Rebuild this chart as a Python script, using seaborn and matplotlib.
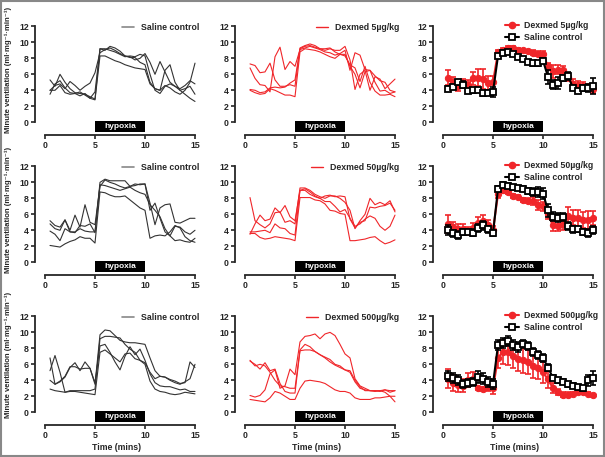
import numpy as np
import pandas as pd
import seaborn as sns
import matplotlib.pyplot as plt
from matplotlib.lines import Line2D
from matplotlib.patches import Rectangle

# time points (min)
time = np.arange(1, 31) * 0.5

# ---- individual traces (4 animals per group) ----
sal_1 = [
    [5.3, 4.5, 6.0, 5.0, 4.2, 3.7, 3.6, 3.5, 3.2, 2.9, 9.2, 9.2, 9.0, 8.8, 8.5, 8.2, 8.3, 8.2, 8.5, 8.3, 6.0, 4.0, 3.6, 4.5, 4.8, 4.5, 4.0, 3.5, 3.0, 2.6],
    [3.5, 4.8, 5.2, 4.3, 3.7, 3.6, 3.8, 3.4, 3.0, 2.8, 8.3, 8.3, 8.0, 7.7, 7.5, 7.2, 7.0, 6.8, 6.7, 6.6, 4.8, 4.2, 4.0, 4.6, 4.3, 3.8, 3.5, 4.0, 5.0, 7.4],
    [4.0, 4.6, 4.8, 4.2, 5.1, 4.6, 4.0, 4.5, 4.9, 6.2, 8.7, 9.1, 9.3, 9.0, 8.6, 8.3, 8.2, 7.8, 8.0, 8.6, 7.5, 6.0, 7.6, 6.3, 5.0, 4.5, 4.2, 4.6, 5.2, 4.8],
    [4.0, 4.0, 4.6, 3.7, 3.5, 3.6, 3.3, 3.6, 3.0, 3.8, 9.2, 9.0, 9.5, 9.3, 8.9, 8.3, 8.1, 8.1, 7.5, 7.2, 5.0, 4.2, 4.0, 6.5, 7.2, 5.0, 4.0, 4.2, 4.5, 3.5],
]
dex_5 = [
    [7.3, 7.1, 6.2, 6.3, 7.4, 5.3, 4.5, 4.5, 4.7, 4.5, 9.3, 9.6, 9.8, 9.6, 9.2, 9.0, 9.2, 9.0, 9.0, 9.5, 7.8, 4.1, 6.0, 6.5, 4.0, 5.7, 5.4, 4.2, 4.8, 5.4],
    [6.8, 5.5, 4.7, 4.6, 3.8, 8.2, 9.4, 6.6, 7.6, 7.0, 9.1, 9.3, 9.5, 9.3, 9.1, 8.8, 8.7, 8.4, 8.6, 9.0, 6.5, 8.7, 8.4, 6.6, 6.5, 5.0, 3.9, 4.0, 3.6, 3.8],
    [4.1, 4.0, 3.7, 3.8, 4.3, 4.4, 4.3, 4.4, 4.9, 5.3, 9.2, 9.5, 9.6, 9.4, 9.2, 9.2, 9.3, 8.8, 8.5, 8.3, 7.2, 6.8, 5.1, 7.0, 5.0, 3.9, 3.4, 3.4, 3.5, 3.2],
    [4.0, 3.7, 3.5, 3.6, 4.2, 4.0, 3.7, 3.4, 3.4, 3.2, 8.8, 9.2, 9.1, 9.0, 8.8, 8.5, 8.2, 8.0, 8.5, 8.5, 7.0, 6.0, 4.3, 6.3, 6.5, 5.8, 5.2, 5.0, 4.0, 3.8],
]
sal_2 = [
    [5.2, 4.6, 4.4, 5.3, 4.0, 5.9, 4.4, 7.2, 5.0, 4.7, 9.5, 10.3, 10.0, 9.8, 9.5, 9.3, 9.5, 9.8, 9.7, 9.8, 6.5, 7.4, 5.5, 3.8, 3.3, 2.7, 2.8, 2.6, 2.5, 3.0],
    [4.8, 4.2, 4.0, 5.3, 3.8, 3.8, 4.2, 3.9, 3.8, 3.8, 10.0, 10.4, 10.2, 10.2, 10.2, 10.2, 9.5, 9.6, 9.8, 9.8, 7.4, 4.7, 6.8, 7.2, 7.3, 5.0, 4.9, 5.2, 5.5, 5.5],
    [3.9, 3.5, 2.7, 4.2, 3.8, 3.7, 4.6, 4.5, 4.8, 3.7, 9.7, 9.6, 9.4, 9.2, 9.0, 9.2, 9.4, 9.0, 8.7, 8.5, 7.2, 6.5, 5.7, 4.2, 3.3, 4.5, 4.4, 3.8, 3.5, 4.0],
    [2.1, 2.0, 1.9, 2.3, 2.6, 2.8, 3.2, 3.0, 3.0, 2.4, 8.8, 8.7, 8.4, 8.2, 8.2, 8.3, 7.8, 7.3, 6.8, 6.5, 3.0, 3.3, 3.4, 3.3, 3.8, 4.6, 4.3, 3.2, 2.7, 2.5],
]
dex_50 = [
    [8.1, 5.2, 4.7, 4.3, 4.8, 6.2, 6.3, 5.0, 5.2, 4.8, 9.3, 9.3, 9.0, 8.5, 8.2, 8.0, 8.3, 8.3, 8.0, 7.5, 6.5, 4.2, 5.2, 6.0, 8.0, 7.2, 7.5, 7.2, 7.7, 6.3],
    [3.5, 4.8, 5.9, 5.2, 5.4, 6.8, 6.2, 7.1, 5.7, 5.2, 9.0, 9.2, 8.8, 8.3, 8.0, 8.3, 8.4, 8.2, 8.3, 8.2, 5.4, 4.3, 5.0, 5.2, 6.9, 6.8, 7.0, 7.1, 7.4, 6.5],
    [3.8, 3.8, 3.9, 4.0, 3.7, 4.8, 4.3, 4.2, 3.6, 3.4, 9.0, 9.0, 8.5, 8.2, 8.0, 7.6, 7.6, 7.0, 6.3, 6.6, 5.5, 4.5, 4.8, 5.4, 5.8, 5.5, 4.5, 4.0, 4.5, 5.9],
    [3.6, 3.6, 3.1, 2.9, 3.0, 3.2, 3.1, 3.0, 2.9, 2.7, 8.1, 8.1, 8.1, 7.8, 7.7, 7.3, 6.5, 6.4, 6.1, 6.0, 2.7, 2.7, 2.8, 2.9, 3.1, 3.2, 2.7, 2.3, 2.5, 2.8],
]
sal_3 = [
    [6.8, 3.5, 3.9, 4.5, 5.7, 5.7, 5.4, 5.5, 5.5, 3.5, 9.7, 10.3, 10.2, 9.6, 9.0, 8.8, 8.7, 8.7, 8.6, 8.5, 6.8, 5.2, 4.5, 4.4, 4.0, 3.7, 3.5, 3.8, 4.2, 6.0],
    [5.2, 7.1, 5.0, 2.5, 2.7, 2.7, 2.7, 2.7, 2.7, 2.9, 9.2, 9.5, 9.5, 9.4, 9.3, 8.5, 7.9, 7.5, 6.5, 6.2, 5.0, 4.2, 4.5, 4.4, 4.1, 3.9, 3.6, 3.7, 6.3, 5.6],
    [4.0, 3.5, 3.8, 4.4, 5.6, 6.2, 5.2, 6.3, 5.5, 3.7, 8.3, 8.5, 7.5, 6.3, 5.3, 7.0, 8.2, 7.2, 7.9, 6.5, 4.8, 3.7, 3.3, 3.2, 3.2, 3.0, 2.8, 2.9, 2.6, 2.6],
    [2.9, 2.7, 2.6, 2.5, 2.6, 2.6, 2.5, 2.4, 2.3, 2.2, 7.5, 7.8, 7.3, 6.8, 6.3, 7.3, 7.4, 6.7, 6.5, 6.0, 3.9, 2.9, 2.6, 2.5, 2.3, 2.2, 2.3, 2.5, 2.4, 2.3],
]
dex_500 = [
    [6.5, 5.8, 6.0, 5.8, 5.0, 4.0, 3.3, 3.2, 3.0, 3.0, 7.8, 8.5, 8.2, 7.6, 7.2, 6.9, 6.6, 6.0, 5.8, 5.3, 5.0, 3.8, 3.0, 2.8, 2.7, 2.7, 2.7, 2.8, 2.7, 2.7],
    [6.4, 6.0, 5.4, 6.2, 5.2, 5.4, 3.6, 2.6, 2.4, 2.4, 7.7, 7.8, 7.8, 7.6, 7.2, 6.8, 6.3, 5.9, 5.6, 5.3, 5.2, 4.0, 3.2, 2.7, 2.7, 2.7, 2.6, 2.8, 2.5, 2.7],
    [2.1, 1.9, 2.1, 2.8, 4.8, 5.3, 3.0, 3.3, 5.4, 4.7, 8.8, 9.5, 9.6, 9.8, 9.2, 9.8, 10.0, 9.6, 8.5, 7.3, 6.8, 4.2, 3.3, 3.0, 2.7, 2.6, 2.7, 2.5, 2.0, 1.3],
    [1.6, 1.5, 1.4, 1.3, 1.8, 2.6, 2.4, 2.0, 1.6, 1.6, 3.0, 3.9, 4.0, 3.9, 3.8, 3.6, 3.2, 2.8, 2.6, 2.6, 2.4, 1.8, 1.6, 1.6, 1.6, 1.8, 1.8, 1.9, 2.0, 2.0],
]

# ---- group means and SEM ----
dex5_mean = [5.6, 5.0, 4.5, 4.9, 4.7, 5.5, 5.6, 5.4, 4.9, 5.0, 8.8, 9.1, 9.3, 9.3, 9.1, 9.0, 8.9, 8.7, 8.6, 8.5, 7.0, 6.4, 6.6, 6.6, 5.7, 4.8, 4.6, 4.5, 4.4, 4.2]
dex5_sem = [0.9, 0.7, 0.6, 0.5, 0.6, 0.8, 1.1, 1.3, 0.9, 0.8, 0.3, 0.2, 0.2, 0.2, 0.2, 0.2, 0.2, 0.3, 0.3, 0.4, 0.4, 0.8, 0.6, 0.5, 0.5, 0.6, 0.5, 0.5, 0.4, 0.5]
sal1_mean = [4.2, 4.4, 5.0, 4.7, 3.9, 4.0, 4.0, 3.6, 3.7, 3.8, 8.3, 8.7, 8.8, 8.5, 8.2, 7.9, 7.6, 7.4, 7.4, 7.7, 5.7, 4.7, 4.9, 5.5, 5.8, 4.3, 3.9, 4.3, 4.3, 4.5]
sal1_sem = [0.3, 0.3, 0.3, 0.4, 0.3, 0.3, 0.2, 0.3, 0.3, 0.6, 0.3, 0.3, 0.3, 0.2, 0.2, 0.2, 0.2, 0.3, 0.3, 0.3, 0.9, 0.6, 0.8, 0.4, 0.5, 0.3, 0.2, 0.4, 0.5, 1.0]

dex50_mean = [4.8, 4.4, 4.2, 4.2, 3.9, 4.3, 4.9, 5.2, 4.7, 4.0, 8.5, 9.0, 8.8, 8.3, 8.2, 7.8, 7.7, 7.7, 7.2, 7.0, 6.0, 4.6, 4.5, 4.8, 5.8, 5.6, 5.5, 5.3, 5.3, 5.5]
dex50_sem = [1.1, 0.6, 0.6, 0.6, 0.5, 0.6, 0.8, 0.7, 0.6, 0.5, 0.4, 0.3, 0.3, 0.2, 0.2, 0.2, 0.3, 0.5, 0.6, 0.6, 0.6, 0.7, 0.6, 0.8, 1.1, 1.0, 1.1, 1.0, 1.1, 0.9]
sal2_mean = [4.0, 3.6, 3.4, 3.8, 3.8, 3.7, 4.3, 4.6, 4.1, 3.6, 9.2, 9.7, 9.6, 9.4, 9.3, 9.2, 8.9, 8.8, 8.8, 8.6, 6.5, 5.7, 5.6, 5.7, 4.5, 4.1, 4.1, 3.8, 3.6, 4.0]
sal2_sem = [0.6, 0.4, 0.5, 0.4, 0.3, 0.4, 0.5, 0.6, 0.4, 0.3, 0.3, 0.3, 0.3, 0.3, 0.3, 0.3, 0.4, 0.5, 0.6, 0.7, 0.8, 0.6, 0.6, 0.5, 0.5, 0.4, 0.3, 0.4, 0.5, 0.5]

dex500_mean = [4.2, 3.7, 3.4, 3.3, 4.0, 4.2, 3.0, 2.9, 3.2, 3.0, 6.8, 7.6, 7.5, 7.0, 6.7, 6.5, 6.3, 5.8, 5.5, 5.0, 4.1, 3.0, 2.5, 2.2, 2.2, 2.3, 2.5, 2.5, 2.3, 2.1]
dex500_sem = [1.2, 1.0, 0.9, 0.8, 0.9, 0.8, 0.2, 0.2, 0.6, 0.7, 1.3, 1.5, 1.6, 1.5, 1.5, 1.6, 1.5, 1.5, 1.4, 1.3, 1.1, 0.6, 0.4, 0.3, 0.3, 0.2, 0.2, 0.2, 0.2, 0.2]
sal3_mean = [4.5, 4.3, 4.0, 3.5, 3.7, 3.8, 4.4, 4.2, 3.8, 3.5, 8.4, 8.7, 8.9, 8.4, 8.2, 8.5, 8.3, 7.6, 7.2, 6.8, 5.6, 4.3, 4.0, 3.8, 3.5, 3.3, 3.1, 3.0, 4.0, 4.3]
sal3_sem = [0.6, 0.6, 0.6, 0.5, 0.5, 0.5, 0.7, 0.7, 0.6, 0.6, 0.6, 0.6, 0.6, 0.6, 0.6, 0.5, 0.5, 0.5, 0.5, 0.5, 0.4, 0.3, 0.3, 0.3, 0.3, 0.3, 0.3, 0.3, 0.7, 0.9]

dose_labels = ["Dexmed 5µg/kg", "Dexmed 50µg/kg", "Dexmed 500µg/kg"]
sal_traces = [sal_1, sal_2, sal_3]
dex_traces = [dex_5, dex_50, dex_500]
dex_means = [(dex5_mean, dex5_sem), (dex50_mean, dex50_sem), (dex500_mean, dex500_sem)]
sal_means = [(sal1_mean, sal1_sem), (sal2_mean, sal2_sem), (sal3_mean, sal3_sem)]

RED = "#f0262a"
GREY = "#333333"

sns.set_style("ticks")
plt.rcParams["font.family"] = ["Liberation Sans", "DejaVu Sans"]
plt.rcParams["font.weight"] = "bold"
plt.rcParams["font.size"] = 6.3


def to_long(traces):
    rows = []
    for i, tr in enumerate(traces):
        for t, v in zip(time, tr):
            rows.append({"time": t, "vent": v, "animal": i})
    return pd.DataFrame(rows)


def style_axis(ax):
    ax.set_xlim(-1, 15.3)
    ax.set_ylim(-1.6, 12.3)
    ax.spines["top"].set_visible(False)
    ax.spines["right"].set_visible(False)
    ax.spines["left"].set_bounds(0, 12)
    ax.spines["bottom"].set_bounds(0, 15)
    for s in ("left", "bottom"):
        ax.spines[s].set_linewidth(1.3)
    ax.set_yticks([0, 2, 4, 6, 8, 10, 12])
    ax.set_xticks([0, 5, 10, 15])
    ax.tick_params(length=3, width=1.2, pad=1.5, labelsize=6.3)
    ax.set_xlabel("")
    ax.set_ylabel("")
    ax.add_patch(Rectangle((5, -1.2), 5, 1.3, facecolor="black", edgecolor="none", clip_on=False))
    ax.text(7.5, -0.55, "hypoxia", color="white", ha="center", va="center", fontsize=6, fontweight="bold")


fig = plt.figure(figsize=(6.05, 4.57), dpi=100)
W, H = 605, 457
col_left = [35, 235, 433]
row_bottom = [135, 275, 425]
label_y = [70, 210, 355]
aw, ah = 163, 111

for r in range(3):
    axes = [fig.add_axes([col_left[c] / W, 1 - row_bottom[r] / H, aw / W, ah / H]) for c in range(3)]

    # saline individual traces
    ax = axes[0]
    sns.lineplot(data=to_long(sal_traces[r]), x="time", y="vent", units="animal", estimator=None,
                 color=GREY, lw=0.8, ax=ax)
    style_axis(ax)
    ax.legend(handles=[Line2D([], [], color="#888888", lw=1.2)], labels=["Saline control"],
              loc="upper right", bbox_to_anchor=(1.03, 1.04), frameon=False, handlelength=1.4,
              fontsize=6.3, borderaxespad=0)
    fig.text(8 / W, 1 - label_y[r] / H, "Minute ventilation (ml·mg⁻¹·min⁻¹)", rotation=90,
             ha="center", va="center", fontsize=5.6, fontweight="bold")

    # dexmed individual traces
    ax = axes[1]
    sns.lineplot(data=to_long(dex_traces[r]), x="time", y="vent", units="animal", estimator=None,
                 color=RED, lw=0.8, ax=ax)
    style_axis(ax)
    ax.legend(handles=[Line2D([], [], color=RED, lw=1.0)], labels=[dose_labels[r]],
              loc="upper right", bbox_to_anchor=(1.03, 1.04), frameon=False, handlelength=1.4,
              fontsize=6.3, borderaxespad=0)

    # means +/- SEM
    ax = axes[2]
    dm, ds = dex_means[r]
    sm, ss = sal_means[r]
    ax.errorbar(time, dm, yerr=ds, fmt="none", ecolor=RED, elinewidth=1.2, capsize=2, capthick=1.2)
    sns.lineplot(x=time, y=dm, color=RED, lw=1.5, marker="o", markersize=4.5,
                 markeredgecolor=RED, ax=ax)
    ax.errorbar(time, sm, yerr=ss, fmt="none", ecolor="black", elinewidth=1.2, capsize=2, capthick=1.2)
    sns.lineplot(x=time, y=sm, color="black", lw=1.5, marker="s", markersize=4.5,
                 markerfacecolor="white", markeredgecolor="black", markeredgewidth=1.3, ax=ax)
    style_axis(ax)
    h1 = Line2D([], [], color=RED, lw=1.5, marker="o", markersize=4.5)
    h2 = Line2D([], [], color="black", lw=1.5, marker="s", markersize=4.5,
                markerfacecolor="white", markeredgewidth=1.3)
    ax.legend(handles=[h1, h2], labels=[dose_labels[r], "Saline control"], loc="upper left",
              bbox_to_anchor=(0.42, 1.06), frameon=False, handlelength=1.6, fontsize=6.3,
              borderaxespad=0, labelspacing=0.35, handletextpad=0.6)

    if r == 2:
        for ax in axes:
            ax.set_xlabel("Time (mins)", fontsize=6.3, fontweight="bold", labelpad=2)

# outer frame
fig.patches.append(Rectangle((0.002, 0.002), 0.996, 0.996, transform=fig.transFigure,
                             fill=False, edgecolor="#888888", lw=1.5))

fig.savefig("out.png", dpi=100)
